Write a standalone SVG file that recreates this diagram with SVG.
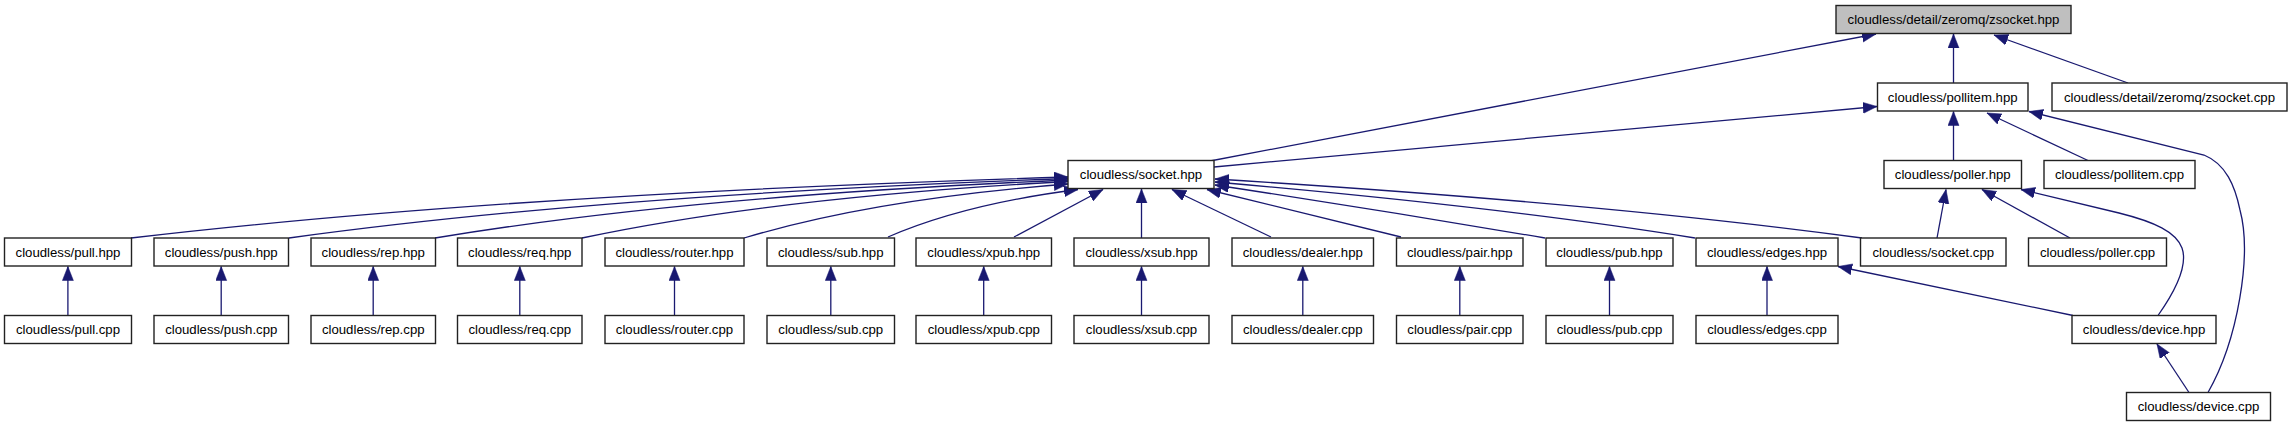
<svg xmlns="http://www.w3.org/2000/svg" width="2292" height="427" viewBox="0 0 2292 427">
<style>
.n rect{fill:#fff;stroke:#222;stroke-width:1.4}
.n.root rect{fill:#bfbfbf}
.n text{font-family:"Liberation Sans",Arial,sans-serif;font-size:13.2px;fill:#000;text-anchor:middle}
.e path{fill:none;stroke:#191970;stroke-width:1.3;marker-end:url(#ah)}
</style>
<defs>
<marker id="ah" markerUnits="userSpaceOnUse" markerWidth="15" markerHeight="12" refX="14" refY="5.5" orient="auto">
<path d="M0,0 L14,5.5 L0,11 z" fill="#191970" stroke="#191970" stroke-width="0.5"/>
</marker>
</defs>
<rect width="2292" height="427" fill="#fff"/>
<g class="e" id="edges">
<path d="M1210,161 L1876,34"/>
<path d="M2128,83 L1994,35"/>
<path d="M1953.5,83 L1953.5,34"/>
<path d="M1214,167 L1877,106.5"/>
<path d="M1953.5,160.5 L1953.5,111.5"/>
<path d="M2088,160.5 L1987,113"/>
<path d="M2208,392.5 C2238,340 2252,255 2240,210 C2235,186 2226,164 2204,155 L2029,111.5"/>
<path d="M1937,238 L1946,189.5"/>
<path d="M2070,238 L1982,189.5"/>
<path d="M2158,315.5 C2176,290 2188,265 2182,248 C2176,232 2155,222 2119,213 L2021,189.5"/>
<path d="M2073,315.5 L1838,266.5"/>
<path d="M2189,392.5 L2157,344"/>
<path d="M131,238 Q506,194 1068,177"/>
<path d="M289,238 Q601,195 1068,178.5"/>
<path d="M435,238 Q688,196 1068,180"/>
<path d="M582,238 Q776,197 1068,181.5"/>
<path d="M744,238 Q874,199 1068,184"/>
<path d="M888,237 Q964,204 1078,189.5"/>
<path d="M1014,237 L1103,189.5"/>
<path d="M1141.5,238 L1141.5,189"/>
<path d="M1271,237 L1172,189.5"/>
<path d="M1401,237 L1207,189.5"/>
<path d="M1545,238 Q1380,210 1215,185"/>
<path d="M1695,238 Q1503,207 1215,182"/>
<path d="M1862,238 Q1603,203 1215,179"/>
<path d="M67.9,315.5 L67.9,266.5"/>
<path d="M221.2,315.5 L221.2,266.5"/>
<path d="M373.2,315.5 L373.2,266.5"/>
<path d="M519.8,315.5 L519.8,266.5"/>
<path d="M674.5,315.5 L674.5,266.5"/>
<path d="M830.8,315.5 L830.8,266.5"/>
<path d="M983.7,315.5 L983.7,266.5"/>
<path d="M1141.5,315.5 L1141.5,266.5"/>
<path d="M1302.8,315.5 L1302.8,266.5"/>
<path d="M1459.8,315.5 L1459.8,266.5"/>
<path d="M1609.5,315.5 L1609.5,266.5"/>
<path d="M1767,315.5 L1767,266.5"/>
</g>
<g class="n root" id="zsocket_hpp"><rect x="1836" y="5.5" width="235" height="28"/><text x="1953.5" y="24">cloudless/detail/zeromq/zsocket.hpp</text></g>
<g class="n" id="pollitem_hpp"><rect x="1877.5" y="83" width="150.5" height="28"/><text x="1952.75" y="101.5">cloudless/pollitem.hpp</text></g>
<g class="n" id="zsocket_cpp"><rect x="2052" y="83" width="235" height="28"/><text x="2169.5" y="101.5">cloudless/detail/zeromq/zsocket.cpp</text></g>
<g class="n" id="socket_hpp"><rect x="1068" y="160.5" width="146" height="28"/><text x="1141" y="179">cloudless/socket.hpp</text></g>
<g class="n" id="poller_hpp"><rect x="1884" y="160.5" width="137.5" height="28"/><text x="1952.75" y="179">cloudless/poller.hpp</text></g>
<g class="n" id="pollitem_cpp"><rect x="2044" y="160.5" width="151" height="28"/><text x="2119.5" y="179">cloudless/pollitem.cpp</text></g>
<g class="n" id="pull_hpp"><rect x="4.5" y="238" width="127" height="28"/><text x="68" y="256.5">cloudless/pull.hpp</text></g>
<g class="n" id="push_hpp"><rect x="154" y="238" width="134.5" height="28"/><text x="221.25" y="256.5">cloudless/push.hpp</text></g>
<g class="n" id="rep_hpp"><rect x="311" y="238" width="124.5" height="28"/><text x="373.25" y="256.5">cloudless/rep.hpp</text></g>
<g class="n" id="req_hpp"><rect x="457.5" y="238" width="124.5" height="28"/><text x="519.75" y="256.5">cloudless/req.hpp</text></g>
<g class="n" id="router_hpp"><rect x="605" y="238" width="139" height="28"/><text x="674.5" y="256.5">cloudless/router.hpp</text></g>
<g class="n" id="sub_hpp"><rect x="767" y="238" width="127.5" height="28"/><text x="830.75" y="256.5">cloudless/sub.hpp</text></g>
<g class="n" id="xpub_hpp"><rect x="916" y="238" width="135.5" height="28"/><text x="983.75" y="256.5">cloudless/xpub.hpp</text></g>
<g class="n" id="xsub_hpp"><rect x="1074" y="238" width="135" height="28"/><text x="1141.5" y="256.5">cloudless/xsub.hpp</text></g>
<g class="n" id="dealer_hpp"><rect x="1232" y="238" width="141.5" height="28"/><text x="1302.75" y="256.5">cloudless/dealer.hpp</text></g>
<g class="n" id="pair_hpp"><rect x="1396.5" y="238" width="126.5" height="28"/><text x="1459.75" y="256.5">cloudless/pair.hpp</text></g>
<g class="n" id="pub_hpp"><rect x="1546" y="238" width="127" height="28"/><text x="1609.5" y="256.5">cloudless/pub.hpp</text></g>
<g class="n" id="edges_hpp"><rect x="1696" y="238" width="142" height="28"/><text x="1767" y="256.5">cloudless/edges.hpp</text></g>
<g class="n" id="socket_cpp"><rect x="1860.5" y="238" width="145.5" height="28"/><text x="1933.25" y="256.5">cloudless/socket.cpp</text></g>
<g class="n" id="poller_cpp"><rect x="2028.5" y="238" width="138" height="28"/><text x="2097.5" y="256.5">cloudless/poller.cpp</text></g>
<g class="n" id="pull_cpp"><rect x="4.5" y="315.5" width="127" height="28"/><text x="68" y="334">cloudless/pull.cpp</text></g>
<g class="n" id="push_cpp"><rect x="154" y="315.5" width="134.5" height="28"/><text x="221.25" y="334">cloudless/push.cpp</text></g>
<g class="n" id="rep_cpp"><rect x="311" y="315.5" width="124.5" height="28"/><text x="373.25" y="334">cloudless/rep.cpp</text></g>
<g class="n" id="req_cpp"><rect x="457.5" y="315.5" width="124.5" height="28"/><text x="519.75" y="334">cloudless/req.cpp</text></g>
<g class="n" id="router_cpp"><rect x="605" y="315.5" width="139" height="28"/><text x="674.5" y="334">cloudless/router.cpp</text></g>
<g class="n" id="sub_cpp"><rect x="767" y="315.5" width="127.5" height="28"/><text x="830.75" y="334">cloudless/sub.cpp</text></g>
<g class="n" id="xpub_cpp"><rect x="916" y="315.5" width="135.5" height="28"/><text x="983.75" y="334">cloudless/xpub.cpp</text></g>
<g class="n" id="xsub_cpp"><rect x="1074" y="315.5" width="135" height="28"/><text x="1141.5" y="334">cloudless/xsub.cpp</text></g>
<g class="n" id="dealer_cpp"><rect x="1232" y="315.5" width="141.5" height="28"/><text x="1302.75" y="334">cloudless/dealer.cpp</text></g>
<g class="n" id="pair_cpp"><rect x="1396.5" y="315.5" width="126.5" height="28"/><text x="1459.75" y="334">cloudless/pair.cpp</text></g>
<g class="n" id="pub_cpp"><rect x="1546" y="315.5" width="127" height="28"/><text x="1609.5" y="334">cloudless/pub.cpp</text></g>
<g class="n" id="edges_cpp"><rect x="1696" y="315.5" width="142" height="28"/><text x="1767" y="334">cloudless/edges.cpp</text></g>
<g class="n" id="device_hpp"><rect x="2072" y="315.5" width="144" height="28"/><text x="2144" y="334">cloudless/device.hpp</text></g>
<g class="n" id="device_cpp"><rect x="2126.5" y="392.5" width="144" height="28"/><text x="2198.5" y="411">cloudless/device.cpp</text></g>
</svg>
